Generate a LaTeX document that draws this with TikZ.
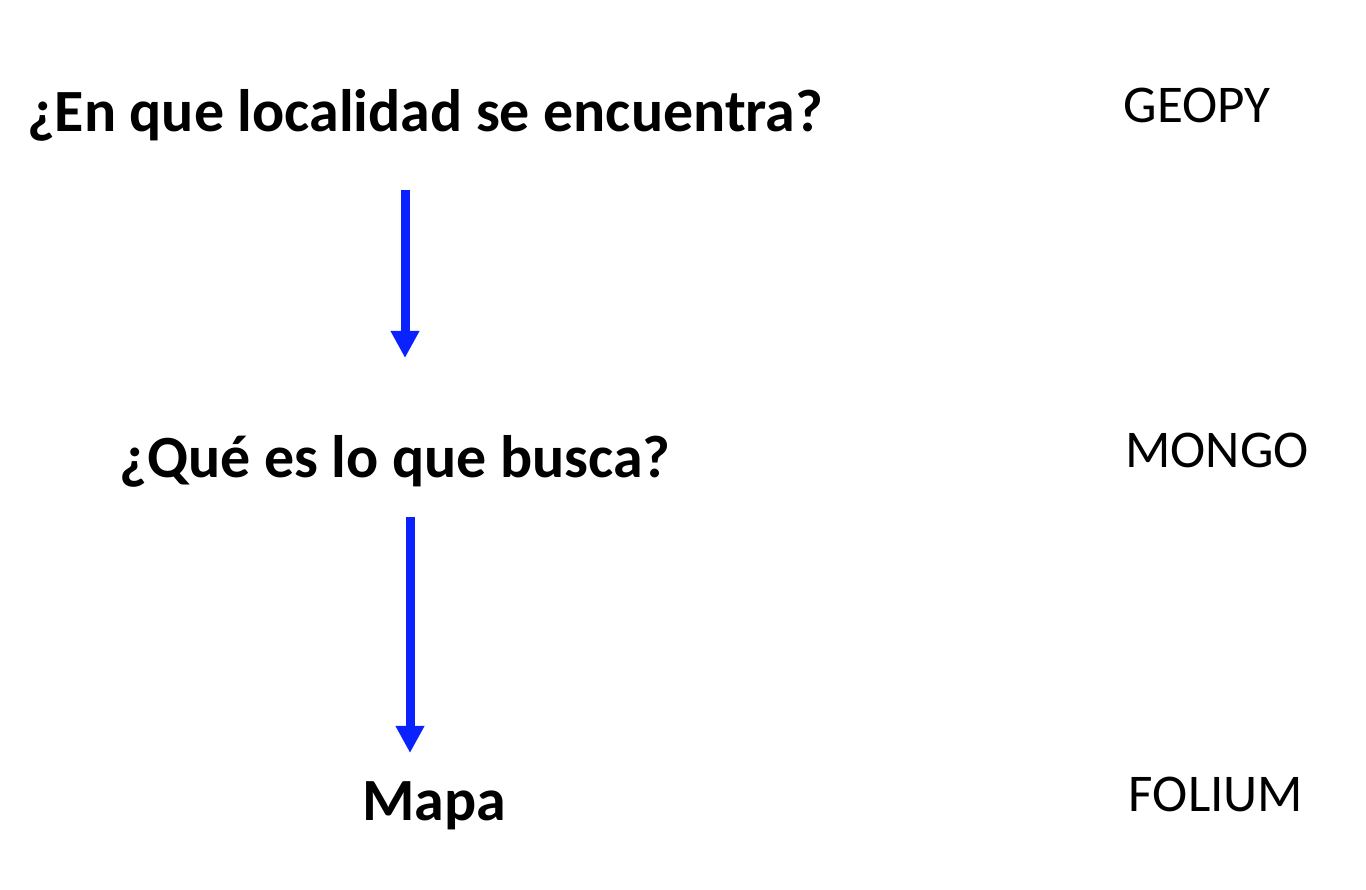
\documentclass[tikz,border=0pt]{standalone}
\usepackage{fontspec}
\setmainfont{Carlito}
\usetikzlibrary{arrows.meta}
\definecolor{arrowblue}{RGB}{10,34,255}
\tikzset{
  question/.style={anchor=base, inner sep=0pt, font=\fontsize{17.05}{21}\selectfont\bfseries},
  tool/.style={anchor=base, inner sep=0pt, font=\fontsize{15.1}{19}\selectfont},
  flow/.style={draw=arrowblue, line width=0.09cm, -{Triangle[length=0.27cm, width=0.27cm]}}
}
\begin{document}
\begin{tikzpicture}
\useasboundingbox[fill=white] (0,0) rectangle (13.66,8.90);
\node[question] (q1) at (4.25,7.58) {¿En que localidad se encuentra?};
\node[question] (q2) at (3.95,4.12) {¿Qué es lo que busca?};
\node[question] (q3) at (4.34,0.69) {Mapa};
\node[tool] (t1) at (11.97,7.67) {GEOPY};
\node[tool] (t2) at (12.17,4.22) {MONGO};
\node[tool] (t3) at (12.16,0.78) {FOLIUM};
\coordinate (a1s) at (4.05,7.00);
\coordinate (a1e) at (4.05,5.32);
\coordinate (a2s) at (4.10,3.73);
\coordinate (a2e) at (4.10,1.37);
\draw[flow] (a1s) -- (a1e);
\draw[flow] (a2s) -- (a2e);
\end{tikzpicture}
\end{document}
